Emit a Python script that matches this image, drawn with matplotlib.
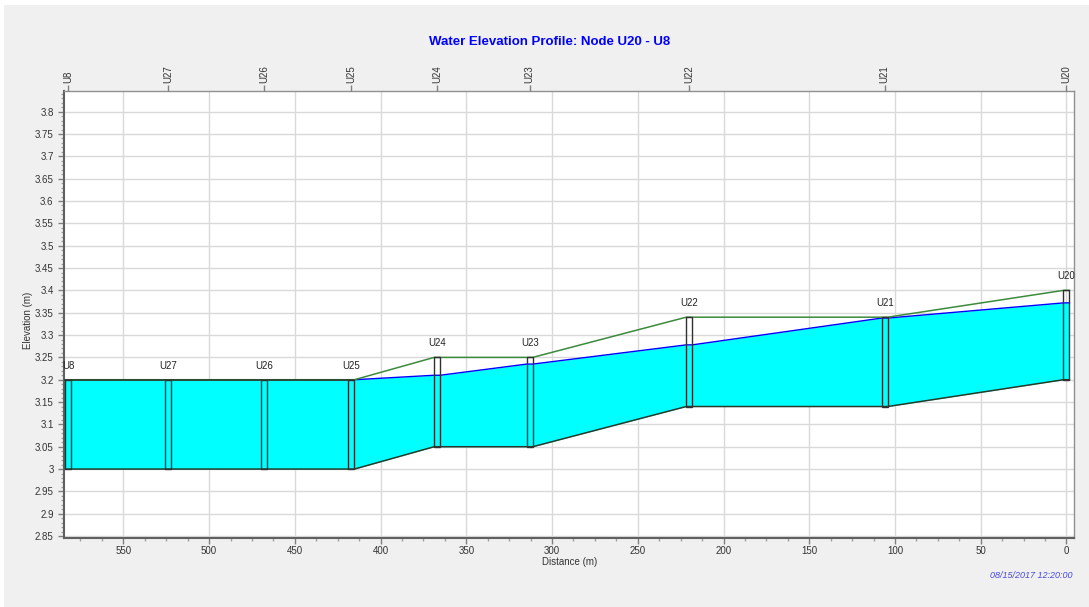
import matplotlib
matplotlib.use("Agg")
import matplotlib.pyplot as plt
from matplotlib.patches import Rectangle
from matplotlib.ticker import MultipleLocator, FuncFormatter, FixedLocator

plt.rcParams['font.family'] = ['Liberation Sans', 'DejaVu Sans']

# ---- data ----
nodes = ['U8', 'U27', 'U26', 'U25', 'U24', 'U23', 'U22', 'U21', 'U20']
distance = [582, 524, 468, 417, 367, 313, 220, 106, 0]
invert = [3.00, 3.00, 3.00, 3.00, 3.05, 3.05, 3.14, 3.14, 3.20]
rim = [3.20, 3.20, 3.20, 3.20, 3.25, 3.25, 3.34, 3.34, 3.40]
water = [3.20, 3.20, 3.20, 3.20, 3.21, 3.235, 3.278, 3.338, 3.372]
title = "Water Elevation Profile: Node U20 - U8"
timestamp = "08/15/2017 12:20:00"

W, H = 1089, 607
fig = plt.figure(figsize=(W / 100, H / 100), dpi=100)
fig.patch.set_facecolor('white')
fig.patches.append(Rectangle((4 / W, 0), 1 - 4 / W, 1 - 5 / H, transform=fig.transFigure,
                             facecolor='#f0f0f0', edgecolor='none', zorder=-10))

left, right, top, bottom = 64 / W, 1074 / W, 1 - 91 / H, 1 - 538 / H
ax = fig.add_axes([left, bottom, right - left, top - bottom])
ax.set_facecolor('white')
ax.set_xlim(584.6, -4.4)
ax.set_ylim(2.8457, 3.8463)

hw = 1.75  # half width of node boxes (m)
xs, bots, wats, rims = [], [], [], []
for d, inv, r, w in zip(distance, invert, rim, water):
    xs += [d + hw, d - hw]
    bots += [inv, inv]
    wats += [w, w]
    rims += [r, r]

ax.fill_between(xs, bots, wats, color='#00ffff', lw=0, zorder=2)
ax.plot(xs, wats, color='#0000ff', lw=1, zorder=3)
ax.plot(xs, rims, color='#3c8a3c', lw=1.1, zorder=4)
# dark crown line where conduits are full
full = [i for i in range(len(xs)) if abs(wats[i] - rims[i]) < 1e-9]
seg = [i for i in full if i <= 7]
ax.plot([xs[i] for i in seg], [rims[i] for i in seg], color='#2a3a2a', lw=1.1, zorder=5)
ax.plot(xs, bots, color='#2a3a2a', lw=1.1, zorder=5)

for name, d, inv, r in zip(nodes, distance, invert, rim):
    ax.add_patch(Rectangle((d - hw, inv), 2 * hw, r - inv, facecolor='none',
                           edgecolor='#303030', lw=1, zorder=6))
    ax.annotate(name, (d, r), xytext=(0, 10), textcoords='offset points',
                ha='center', va='center', fontsize=7, color='#222222', zorder=7,
                annotation_clip=False)

# ticks and grid
ax.xaxis.set_major_locator(MultipleLocator(50))
ax.xaxis.set_minor_locator(MultipleLocator(12.5))
ax.yaxis.set_major_locator(MultipleLocator(0.05))
ax.yaxis.set_minor_locator(MultipleLocator(0.01))
ax.yaxis.set_major_formatter(FuncFormatter(lambda v, p: '%g' % round(v, 2)))
ax.xaxis.set_major_formatter(FuncFormatter(lambda v, p: '%g' % round(v, 1)))
ax.tick_params(which='major', length=4, width=1, colors='#808080', labelcolor='#333333', labelsize=7)
ax.tick_params(axis='x', which='major', pad=2)
ax.tick_params(which='minor', length=2.5, width=1, colors='#a0a0a0')
ax.grid(True, which='major', color='#d9d9d9', lw=1, zorder=0)
ax.set_axisbelow(True)
for s in ['left', 'bottom']:
    ax.spines[s].set_color('#606060')
    ax.spines[s].set_linewidth(1.5)
for s in ['top', 'right']:
    ax.spines[s].set_color('#909090')
    ax.spines[s].set_linewidth(1)

ax2 = ax.twiny()
ax2.set_xlim(ax.get_xlim())
ax2.xaxis.set_major_locator(FixedLocator(distance))
ax2.set_xticklabels(nodes, rotation=90, fontsize=7, color='#333333')
ax2.tick_params(length=4, width=1, colors='#808080', labelcolor='#333333', pad=2)
for s in ax2.spines.values():
    s.set_visible(False)

fig.text(550 / W, 1 - 42 / H, title, ha='center', va='center', fontsize=9.5,
         fontweight='bold', color='#0000ff')
fig.text(28 / W, 1 - 320 / H, 'Elevation (m)', rotation=90, ha='center', va='center',
         fontsize=7, color='#333333')
fig.text(570 / W, 1 - 562 / H, 'Distance (m)', ha='center', va='center',
         fontsize=7, color='#333333')
fig.text(1073 / W, 1 - 576 / H, timestamp, ha='right', va='center', fontsize=6.5,
         style='italic', color='#4848e0')

fig.savefig('out.png', dpi=100)
